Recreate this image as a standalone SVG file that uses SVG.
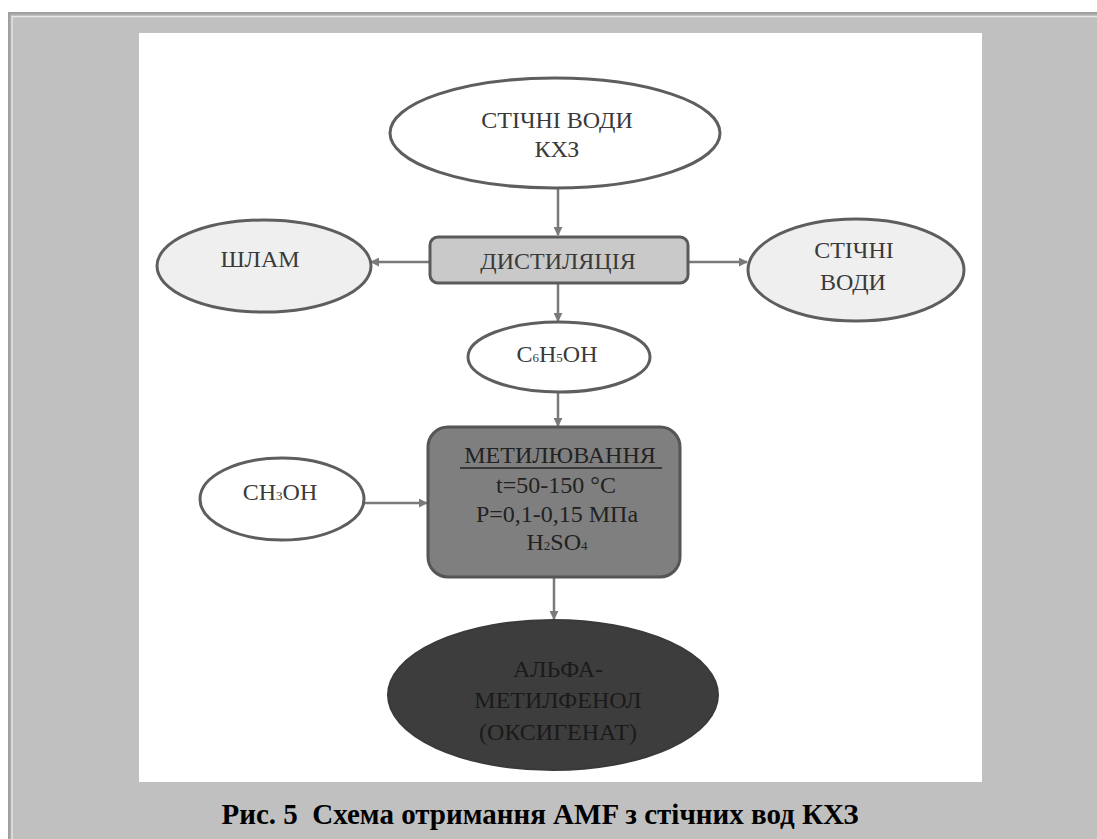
<svg xmlns="http://www.w3.org/2000/svg" width="1097" height="839" viewBox="0 0 1097 839">
  <defs>
    <marker id="arrow" viewBox="0 0 10 10" refX="9" refY="5" markerWidth="9" markerHeight="9" markerUnits="userSpaceOnUse" orient="auto">
      <path d="M0,0 L10,5 L0,10 z" fill="#7a7a7a"/>
    </marker>
  </defs>
  <style>
    .t { font-size: 24px; fill: #3a3a3a; text-anchor: middle; }
    .dark { fill: #222222; }
    .deep { fill: #1a1a1a; }
    .light { fill: #ffffff; stroke: #5e5e5e; stroke-width: 3; }
    .pale { fill: #efefef; stroke: #5e5e5e; stroke-width: 3; }
    .conn line { stroke: #7a7a7a; stroke-width: 2.5; marker-end: url(#arrow); }
    .sub { font-size: 13px; }
  </style>

  <!-- page frame -->
  <rect x="0" y="0" width="1097" height="839" fill="#ffffff"/>
  <rect x="8" y="12" width="1089" height="827" fill="#c0c0c0"/>
  <rect x="8" y="12" width="1089" height="2.5" fill="#a0a0a0"/>
  <rect x="8" y="12" width="2.5" height="827" fill="#a0a0a0"/>
  <rect x="12" y="16" width="1085" height="1.2" fill="#e8e8e8"/>
  <rect x="11.5" y="16" width="1.2" height="823" fill="#e8e8e8"/>

  <!-- white figure panel -->
  <rect x="139" y="33" width="843" height="749" fill="#ffffff"/>

  <!-- connectors -->
  <g id="connectors" class="conn">
    <line x1="558" y1="189" x2="558" y2="235"/>
    <line x1="430" y1="262" x2="371" y2="262"/>
    <line x1="688" y1="262" x2="747" y2="262"/>
    <line x1="558" y1="283" x2="558" y2="321"/>
    <line x1="558" y1="392" x2="558" y2="426"/>
    <line x1="364" y1="503" x2="427" y2="503"/>
    <line x1="554" y1="577" x2="554" y2="619"/>
  </g>

  <g font-family="'Liberation Serif', 'Times New Roman', serif">
    <g id="node-wastewater-kxz">
      <ellipse class="light" cx="555" cy="133" rx="165" ry="55"/>
      <text class="t" x="557" y="128">СТІЧНІ ВОДИ</text>
      <text class="t" x="557" y="157">КХЗ</text>
    </g>

    <g id="node-distillation">
      <rect x="430" y="237" width="258" height="46" rx="8" fill="#c9c9c9" stroke="#5a5a5a" stroke-width="3"/>
      <text class="t" x="558" y="269">ДИСТИЛЯЦІЯ</text>
    </g>

    <g id="node-sludge">
      <ellipse class="pale" cx="264" cy="266" rx="107" ry="46"/>
      <text class="t" x="260" y="267">ШЛАМ</text>
    </g>

    <g id="node-wastewater">
      <ellipse class="pale" cx="856" cy="270" rx="108" ry="51"/>
      <text class="t" x="854" y="258">СТІЧНІ</text>
      <text class="t" x="853" y="290">ВОДИ</text>
    </g>

    <g id="node-phenol">
      <ellipse class="light" cx="559" cy="357" rx="91" ry="35"/>
      <text class="t" x="557" y="362">C<tspan class="sub">6</tspan>H<tspan class="sub">5</tspan>OH</text>
    </g>

    <g id="node-methanol">
      <ellipse class="light" cx="282" cy="499" rx="82" ry="41"/>
      <text class="t" x="280" y="500">CH<tspan class="sub">3</tspan>OH</text>
    </g>

    <g id="node-methylation">
      <rect x="428" y="427" width="252" height="150" rx="20" fill="#7f7f7f" stroke="#555555" stroke-width="3"/>
      <text class="t dark" x="560" y="463">МЕТИЛЮВАННЯ</text>
      <line x1="460" y1="468" x2="662" y2="468" stroke="#222" stroke-width="1.5"/>
      <text class="t dark" x="556" y="493">t=50-150 °C</text>
      <text class="t dark" x="557" y="522">P=0,1-0,15 МПа</text>
      <text class="t dark" x="557" y="550">H<tspan class="sub">2</tspan>SO<tspan class="sub">4</tspan></text>
    </g>

    <g id="node-product">
      <ellipse cx="553" cy="695" rx="165" ry="75" fill="#3d3d3d" stroke="#3a3a3a" stroke-width="2"/>
      <text class="t deep" x="558" y="677">АЛЬФА-</text>
      <text class="t deep" x="558" y="708">МЕТИЛФЕНОЛ</text>
      <text class="t deep" x="558" y="740">(ОКСИГЕНАТ)</text>
    </g>

    <!-- caption -->
    <text x="540" y="824" font-size="29" font-weight="bold" fill="#000" text-anchor="middle">Рис. 5&#160; Схема отримання AMF з стічних вод КХЗ</text>
  </g>
</svg>
